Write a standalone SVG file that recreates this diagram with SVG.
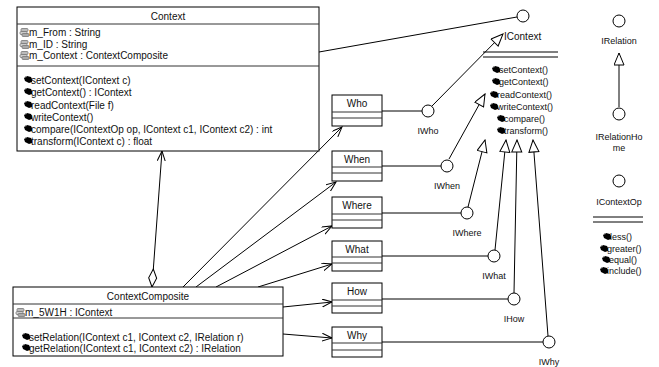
<svg xmlns="http://www.w3.org/2000/svg" width="659" height="367" viewBox="0 0 659 367">
<style>
text{font-family:"Liberation Sans",Arial,sans-serif;font-size:10px;fill:#111}
.c{text-anchor:middle}
.s9{font-size:9px}
.box{fill:#fff;stroke:#000;stroke-width:1}
.sep{stroke:#333;stroke-width:1}
.ln{stroke:#000;stroke-width:1;fill:none}
.lol{fill:#fff;stroke:#000;stroke-width:1}
</style>
<defs>
<marker id="open" markerUnits="userSpaceOnUse" markerWidth="12" markerHeight="10" refX="10" refY="4" orient="auto">
<path d="M0,0 L10,4 L0,8" fill="none" stroke="#000" stroke-width="1"/>
</marker>
<marker id="tri" markerUnits="userSpaceOnUse" markerWidth="14" markerHeight="12" refX="13" refY="5.5" orient="auto">
<path d="M1,0.5 L13,5.5 L1,10.5 Z" fill="#fff" stroke="#000" stroke-width="1"/>
</marker>
<marker id="dia" markerUnits="userSpaceOnUse" markerWidth="20" markerHeight="10" refX="1" refY="4.5" orient="auto">
<path d="M1,4.5 L10,0.5 L19,4.5 L10,8.5 Z" fill="#fff" stroke="#000" stroke-width="1"/>
</marker>
<g id="mi"><path d="M0,2 L3,0 L7,1 L8,3 L8,6 L5,7 L1,5 Z" fill="#000"/><path d="M1,1 L3,0.5" stroke="#888" stroke-width="1"/></g>
<g id="ai"><rect x="1" y="0.5" width="7" height="3" rx="1" fill="#bbb" stroke="#777" stroke-width="0.8"/><rect x="0" y="3.5" width="7" height="3" rx="1" fill="#ccc" stroke="#777" stroke-width="0.8"/><rect x="2" y="5.5" width="7" height="3" rx="1" fill="#aaa" stroke="#777" stroke-width="0.8"/></g>
</defs>

<g id="connectors">
<line class="ln" x1="319" y1="52" x2="517" y2="17"/>
<path class="ln" d="M152,287 L162,151" marker-start="url(#dia)" marker-end="url(#open)"/>
<line class="ln" x1="183" y1="287" x2="342" y2="127" marker-end="url(#open)"/>
<line class="ln" x1="196" y1="287" x2="336" y2="182" marker-end="url(#open)"/>
<line class="ln" x1="216" y1="287" x2="332" y2="226" marker-end="url(#open)"/>
<line class="ln" x1="258" y1="287" x2="332" y2="264" marker-end="url(#open)"/>
<line class="ln" x1="283" y1="307" x2="332" y2="302" marker-end="url(#open)"/>
<line class="ln" x1="283" y1="334" x2="332" y2="338" marker-end="url(#open)"/>
<line class="ln" x1="382" y1="111" x2="422" y2="111"/>
<line class="ln" x1="382" y1="166" x2="441" y2="166"/>
<line class="ln" x1="382" y1="213" x2="461" y2="213"/>
<line class="ln" x1="382" y1="256" x2="488" y2="256"/>
<line class="ln" x1="382" y1="299" x2="508" y2="299"/>
<line class="ln" x1="382" y1="342" x2="543" y2="342"/>
<line class="ln" x1="432" y1="106" x2="503" y2="34" marker-end="url(#tri)"/>
<line class="ln" x1="449" y1="159" x2="485" y2="94" marker-end="url(#tri)"/>
<line class="ln" x1="468" y1="207" x2="485" y2="140" marker-end="url(#tri)"/>
<line class="ln" x1="495" y1="250" x2="506" y2="140" marker-end="url(#tri)"/>
<line class="ln" x1="514" y1="293" x2="517" y2="140" marker-end="url(#tri)"/>
<line class="ln" x1="548" y1="336" x2="533" y2="140" marker-end="url(#tri)"/>
<line class="ln" x1="619" y1="107" x2="619" y2="53" marker-end="url(#tri)"/>
</g>

<g id="Context">
<rect class="box" x="17" y="7" width="302" height="144"/>
<line class="sep" x1="17" y1="24" x2="319" y2="24"/>
<line class="sep" x1="17" y1="66" x2="319" y2="66"/>
<text class="c" x="168" y="20">Context</text>
<use href="#ai" x="20" y="28"/><text x="29" y="36">m_From : String</text>
<use href="#ai" x="20" y="40"/><text x="29" y="48">m_ID : String</text>
<use href="#ai" x="20" y="51"/><text x="29" y="59">m_Context : ContextComposite</text>
<use href="#mi" x="24" y="76"/><text x="31" y="84">setContext(IContext c)</text>
<use href="#mi" x="24" y="88"/><text x="31" y="96">getContext() : IContext</text>
<use href="#mi" x="24" y="101"/><text x="31" y="109">readContext(File f)</text>
<use href="#mi" x="24" y="113"/><text x="31" y="121">writeContext()</text>
<use href="#mi" x="24" y="125"/><text x="31" y="133">compare(IContextOp op, IContext c1, IContext c2) : int</text>
<use href="#mi" x="24" y="137"/><text x="31" y="145">transform(IContext c) : float</text>
</g>

<g id="ContextComposite">
<rect class="box" x="13" y="287" width="270" height="69"/>
<line class="sep" x1="13" y1="304" x2="283" y2="304"/>
<line class="sep" x1="13" y1="318" x2="283" y2="318"/>
<text class="c" x="148" y="300">ContextComposite</text>
<use href="#ai" x="16" y="308"/><text x="25" y="316">m_5W1H : IContext</text>
<use href="#mi" x="22" y="333"/><text x="29" y="341">setRelation(IContext c1, IContext c2, IRelation r)</text>
<use href="#mi" x="22" y="344"/><text x="29" y="352">getRelation(IContext c1, IContext c2) : IRelation</text>
</g>

<g id="Who"><rect class="box" x="332" y="95" width="50" height="31"/><line class="sep" x1="332" y1="112" x2="382" y2="112"/><line class="sep" x1="332" y1="118" x2="382" y2="118"/><text class="c" x="357" y="107">Who</text></g>
<g id="When"><rect class="box" x="332" y="151" width="50" height="30"/><line class="sep" x1="332" y1="167" x2="382" y2="167"/><line class="sep" x1="332" y1="173" x2="382" y2="173"/><text class="c" x="357" y="163">When</text></g>
<g id="Where"><rect class="box" x="332" y="197" width="50" height="31"/><line class="sep" x1="332" y1="214" x2="382" y2="214"/><line class="sep" x1="332" y1="220" x2="382" y2="220"/><text class="c" x="357" y="209">Where</text></g>
<g id="What"><rect class="box" x="332" y="241" width="50" height="30"/><line class="sep" x1="332" y1="257" x2="382" y2="257"/><line class="sep" x1="332" y1="263" x2="382" y2="263"/><text class="c" x="357" y="253">What</text></g>
<g id="How"><rect class="box" x="332" y="283" width="50" height="30"/><line class="sep" x1="332" y1="300" x2="382" y2="300"/><line class="sep" x1="332" y1="306" x2="382" y2="306"/><text class="c" x="357" y="295">How</text></g>
<g id="Why"><rect class="box" x="332" y="327" width="50" height="30"/><line class="sep" x1="332" y1="343" x2="382" y2="343"/><line class="sep" x1="332" y1="350" x2="382" y2="350"/><text class="c" x="357" y="339">Why</text></g>

<g id="IWho"><circle class="lol" cx="428" cy="111" r="6"/><text class="c s9" x="428" y="134">IWho</text></g>
<g id="IWhen"><circle class="lol" cx="447" cy="166" r="6"/><text class="c s9" x="447" y="189">IWhen</text></g>
<g id="IWhere"><circle class="lol" cx="467" cy="213" r="6"/><text class="c s9" x="467" y="236">IWhere</text></g>
<g id="IWhat"><circle class="lol" cx="494" cy="256" r="6"/><text class="c s9" x="494" y="279">IWhat</text></g>
<g id="IHow"><circle class="lol" cx="514" cy="299" r="6"/><text class="c s9" x="514" y="322">IHow</text></g>
<g id="IWhy"><circle class="lol" cx="549" cy="342" r="6"/><text class="c s9" x="549" y="365">IWhy</text></g>

<g id="IContext">
<circle class="lol" cx="523" cy="16" r="6"/>
<text x="504" y="40">IContext</text>
<line class="ln" x1="483" y1="52" x2="558" y2="52"/>
<line class="ln" x1="483" y1="57" x2="558" y2="57"/>
<use href="#mi" x="492" y="66"/><text class="s9" x="499" y="73">setContext()</text>
<use href="#mi" x="492" y="78"/><text class="s9" x="499" y="85">getContext()</text>
<use href="#mi" x="490" y="91"/><text class="s9" x="497" y="98">readContext()</text>
<use href="#mi" x="490" y="103"/><text class="s9" x="497" y="110">writeContext()</text>
<use href="#mi" x="497" y="115"/><text class="s9" x="504" y="122">compare()</text>
<use href="#mi" x="497" y="127"/><text class="s9" x="504" y="134">transform()</text>
</g>

<g id="IRelation"><circle class="lol" cx="619" cy="21" r="6"/><text class="c s9" x="619" y="44">IRelation</text></g>
<g id="IRelationHome"><circle class="lol" cx="619" cy="114" r="6"/><text class="c s9" x="619" y="140">IRelationHo</text><text class="c s9" x="619" y="151">me</text></g>
<g id="IContextOp">
<circle class="lol" cx="619" cy="181" r="6"/>
<text class="c s9" x="619" y="205">IContextOp</text>
<line class="ln" x1="593" y1="217" x2="643" y2="217"/>
<line class="ln" x1="593" y1="222" x2="643" y2="222"/>
<use href="#mi" x="603" y="233"/><text class="s9" x="610" y="240">less()</text>
<use href="#mi" x="600" y="245"/><text class="s9" x="607" y="252">greater()</text>
<use href="#mi" x="602" y="256"/><text class="s9" x="609" y="263">equal()</text>
<use href="#mi" x="600" y="267"/><text class="s9" x="607" y="274">include()</text>
</g>
</svg>
